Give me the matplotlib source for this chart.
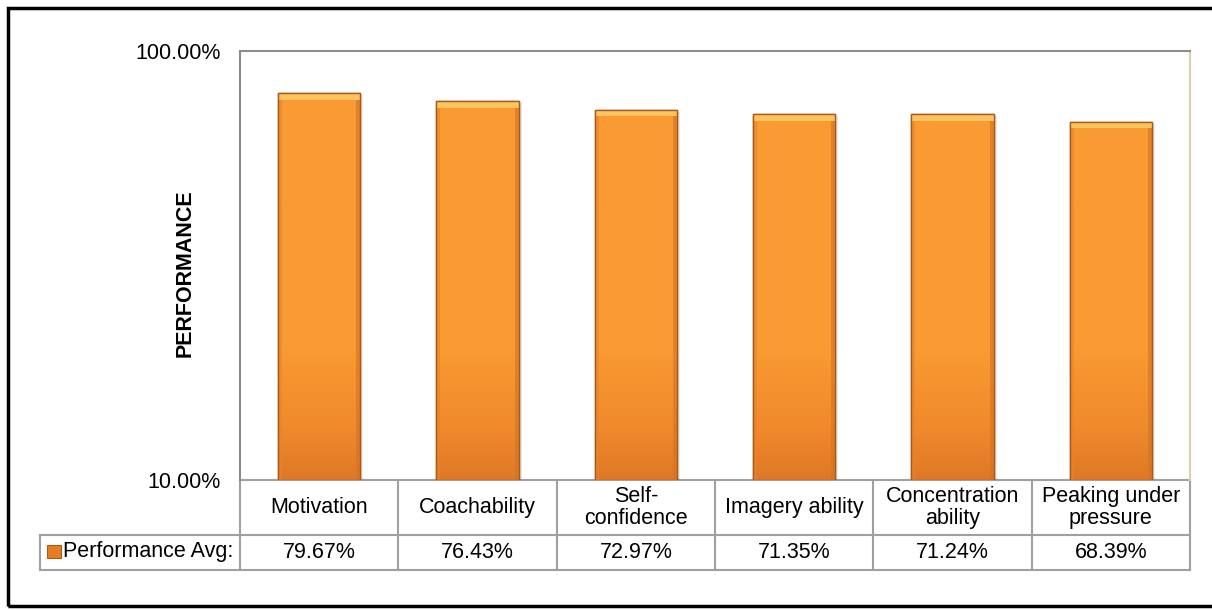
import numpy as np
import matplotlib
matplotlib.use("Agg")
import matplotlib.pyplot as plt
from matplotlib.patches import Rectangle
from matplotlib.colors import LinearSegmentedColormap

plt.rcParams['font.family'] = ['Liberation Sans', 'DejaVu Sans']

# data
categories = ["Motivation", "Coachability", "Self-\nconfidence", "Imagery ability",
              "Concentration\nability", "Peaking under\npressure"]
perf_avg = [79.67, 76.43, 72.97, 71.35, 71.24, 68.39]
series_name = "Performance Avg:"
y_label = "PERFORMANCE"

W, H = 1212, 610
fig = plt.figure(figsize=(W / 100, H / 100), dpi=100)

# plot area in pixels: x 240..1190, y 51..480
ax = fig.add_axes([240 / W, 1 - 480 / H, 950 / W, 429 / H])
ax.set_yscale('log')
ax.set_ylim(10, 100)
ax.set_xlim(-0.5, len(categories) - 0.5)

x = np.arange(len(categories))
bars = ax.bar(x, perf_avg, width=0.52, bottom=10, color='#F99A32',
              edgecolor='#B0601C', linewidth=1.0, zorder=3)
for b, v in zip(bars, perf_avg):
    b.set_height(v - 10)

# vertical gradient inside bars (darker only near the bottom)
cmap = LinearSegmentedColormap.from_list(
    'og', [(0, '#DF7826'), (0.12, '#F08A2C'), (0.3, '#F99A32'), (1, '#FA9C33')])
grad = np.linspace(0, 1, 256).reshape(-1, 1)
for b, v in zip(bars, perf_avg):
    im = ax.imshow(grad, cmap=cmap, aspect='auto', origin='lower',
                   extent=[0, 1, 0, 1], transform=ax.transAxes, zorder=3.5)
    im.set_clip_path(b)
    xl = b.get_x()
    bw = b.get_width()
    # bevel: light top strip, slightly darker sides
    ax.add_patch(Rectangle((xl, v * 0.965), bw, v * 0.035, facecolor='#FCC45E',
                           edgecolor='none', zorder=4))
    ax.add_patch(Rectangle((xl, 10), bw * 0.05, v * 0.965 - 10, facecolor='#E8842A',
                           edgecolor='none', alpha=0.6, zorder=4))
    ax.add_patch(Rectangle((xl + bw * 0.95, 10), bw * 0.05, v * 0.965 - 10, facecolor='#D47222',
                           edgecolor='none', alpha=0.6, zorder=4))
    ax.add_patch(Rectangle((xl, 10), bw, v - 10, facecolor='none',
                           edgecolor='#A85A1A', linewidth=1.0, zorder=5))
    # faint shadow
    ax.add_patch(Rectangle((xl + 0.02, 10), bw, v * 0.99 - 10, facecolor='#000000',
                           alpha=0.08, edgecolor='none', zorder=2.5))

ax.set_yticks([10, 100])
ax.set_yticklabels(['10.00%', '100.00%'], fontsize=15.5)
ax.yaxis.set_minor_locator(matplotlib.ticker.NullLocator())
ax.tick_params(axis='y', length=0, pad=14)
ax.set_xticks([])
for s in ['top', 'left']:
    ax.spines[s].set_color('#8C8C8C')
    ax.spines[s].set_linewidth(1.5)
ax.spines['right'].set_color('#D8D0B0')
ax.spines['right'].set_linewidth(1.5)
ax.spines['bottom'].set_visible(False)

fig.text(185 / W, 1 - 273 / H, y_label, rotation=90, fontsize=15.5, fontweight='bold',
         ha='center', va='center')

# data table below the plot (x in data coords, y in axes fraction)
tr = ax.get_xaxis_transform()
px = 1 / 429.0
y_top = 0.0
y_mid = -(535 - 480) * px
y_bot = -(570 - 480) * px
x_left = -0.5 - 200 / (950 / len(categories))
x_right = len(categories) - 0.5
lc = '#A0A0A0'
lw = 1.5
ax.plot([-0.5, x_right], [y_top, y_top], color=lc, lw=lw, transform=tr, clip_on=False)
ax.plot([x_left, x_right], [y_mid, y_mid], color=lc, lw=lw, transform=tr, clip_on=False)
ax.plot([x_left, x_right], [y_bot, y_bot], color=lc, lw=lw, transform=tr, clip_on=False)
ax.plot([x_left, x_left], [y_mid, y_bot], color=lc, lw=lw, transform=tr, clip_on=False)
for i in range(len(categories) + 1):
    ax.plot([i - 0.5, i - 0.5], [y_top, y_bot], color=lc, lw=lw, transform=tr, clip_on=False)
for i, (c, v) in enumerate(zip(categories, perf_avg)):
    ax.text(i, (y_top + y_mid) / 2, c, ha='center', va='center', fontsize=15.5,
            linespacing=1.05, transform=tr)
    ax.text(i, (y_mid + y_bot) / 2, f"{v:.2f}%", ha='center', va='center',
            fontsize=15.5, transform=tr)

# legend key in the table
fig.patches.append(Rectangle((47 / W, 1 - 558 / H), 14 / W, 13 / H, transform=fig.transFigure,
                             facecolor='#E47E26', edgecolor='#A85A1A', linewidth=0.8))
fig.text(63 / W, 1 - 552 / H, series_name, fontsize=15.5, ha='left', va='center')

# outer chart border (right edge falls outside the image)
fig.patches.append(Rectangle((8 / W, 1 - 606 / H), 1220 / W, 598 / H, transform=fig.transFigure,
                             facecolor='none', edgecolor='black', linewidth=2.5))

fig.savefig('out.png', dpi=100)
